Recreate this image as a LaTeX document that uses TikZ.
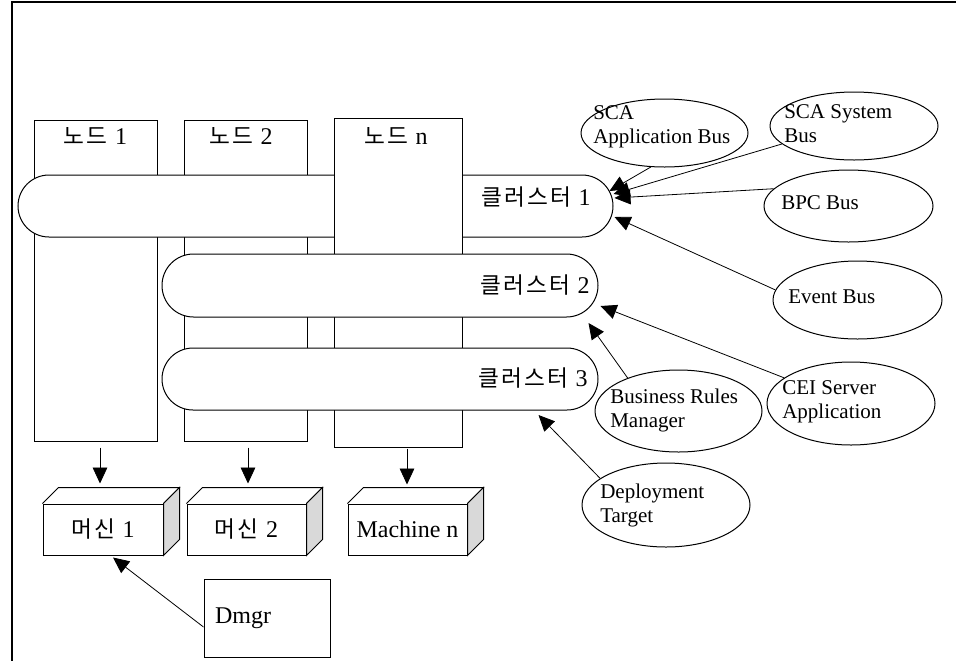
\documentclass[tikz,border=0pt]{standalone}
\usepackage{fontspec}
\setmainfont{Liberation Serif}
\newfontfamily\kr[LetterSpace=10]{Noto Sans CJK KR}
\usetikzlibrary{shapes.geometric,shapes.misc,arrows.meta,calc}
\newcommand\K[1]{{\kr\fontsize{17pt}{20pt}\selectfont #1}\hspace{1pt}}
\newcommand\machinefaces[1]{%
  \draw[line width=0.75pt] (#1.north west) -- ++(16,-16) -- ($(#1.north east)+(16,-16)$) -- (#1.north east);
  \filldraw[line width=0.75pt,fill=gray!30] (#1.north east) -- ++(16,-16) -- ($(#1.south east)+(16,-16)$) -- (#1.south east) -- cycle;
}
\begin{document}
\begin{tikzpicture}[x=0.75pt,y=-0.75pt,
  box/.style={draw,line width=0.75pt,fill=white,inner sep=0pt},
  clus/.style={draw,rounded rectangle,fill=white,line width=0.75pt,inner sep=0pt},
  bus/.style={draw,ellipse,line width=0.75pt,inner sep=0pt},
  arr/.style={line width=0.6pt,-{Triangle[length=12pt,width=11pt]}},
  lat/.style={font=\fontsize{18pt}{21pt}\selectfont,inner sep=0pt},
  etx/.style={font=\fontsize{15.75pt}{18pt}\selectfont,align=left,inner sep=0pt,anchor=west},
]
\useasboundingbox (0,0) rectangle (956,661);
\draw[line width=1.2pt] (956,2) -- (12,2) -- (12,661);

% nodes 1 and 2
\node[box,minimum width=92.25pt,minimum height=240.75pt] (n1) at (95.5,280.5) {};
\node[box,minimum width=92.25pt,minimum height=240.75pt] (n2) at (245.5,280.5) {};
% cluster 1
\node[clus,minimum width=446.25pt,minimum height=46.5pt] (c1) at (315.5,206) {};
% node n
\node[box,minimum width=96pt,minimum height=246.75pt] (nn) at (398,282.5) {};
% clusters 2 and 3
\node[clus,minimum width=327pt,minimum height=47.25pt] (c2) at (380,285.5) {};
\node[clus,minimum width=327pt,minimum height=46.5pt] (c3) at (380,379) {};

\node[lat] (n1l) at (95.5,136) {\K{노드} 1};
\node[lat] (n2l) at (241,136) {\K{노드} 2};
\node[lat] (nnl) at (396,136) {\K{노드} n};

\node[lat,anchor=east] (c1l) at (591,197) {\K{클러스터} 1};
\node[lat,anchor=east] (c2l) at (590,285) {\K{클러스터} 2};
\node[lat,anchor=east] (c3l) at (588,378) {\K{클러스터} 3};

% machines
\node[box,lat,minimum width=90pt,minimum height=38.25pt] (m1) at (103,529.5) {\K{머신} 1};
\node[box,lat,minimum width=89.25pt,minimum height=38.25pt] (m2) at (246.5,529.5) {\K{머신} 2};
\node[box,lat,minimum width=89.25pt,minimum height=38.25pt] (mn) at (407.5,529.5) {Machine n};
\machinefaces{m1}
\machinefaces{m2}
\machinefaces{mn}

% Dmgr
\node[box,lat,minimum height=58.5pt,text width=78pt,align=left,inner xsep=8.25pt] (dm) at (267,618) {Dmgr};

% buses
\node[bus,minimum width=125.25pt,minimum height=51pt] (e1) at (664.5,133) {};
\node[bus,minimum width=126pt,minimum height=51pt] (e2) at (854,126) {};
\node[bus,minimum width=126.75pt,minimum height=54pt] (e3) at (848.5,206) {};
\node[bus,minimum width=126.75pt,minimum height=58.5pt] (e4) at (857.5,300) {};
\node[bus,minimum width=125.25pt,minimum height=61.5pt] (e5) at (678.5,411) {};
\node[bus,minimum width=126pt,minimum height=62.25pt] (e6) at (851,403.5) {};
\node[bus,minimum width=126pt,minimum height=63pt] (e7) at (666,505) {};

\node[etx] (t1) at (593,127) {SCA\\Application Bus};
\node[etx] (t2) at (784,124) {SCA System\\Bus};
\node[etx] (t3) at (781,203) {BPC Bus};
\node[etx] (t4) at (788,297) {Event Bus};
\node[etx] (t5) at (610,410) {Business Rules\\Manager};
\node[etx] (t6) at (782,402) {CEI Server\\Application};
\node[etx] (t7) at (600,505) {Deployment\\Target};

% connectors
\draw[arr] ($(n1.south)+(4.5,6)$) -- ($(m1.north)+(-3,-20)$);
\draw[arr] ($(n2.south)+(2.5,6)$) -- ($(m2.north)+(1.5,-20)$);
\draw[arr] ($(nn.south)+(9,1)$) -- ($(mn.north)+(-0.5,-19)$);
\draw[arr] ($(dm.west)+(0,9)$) -- ($(m1.south)+(10,2)$);
\draw[arr] (e1.248) -- ($(c1.east)+(-4,-15)$);
\draw[arr] (e2.194) -- ($(c1.east)+(0,-12)$);
\draw[arr] (e3.167) -- ($(c1.east)+(1,-8)$);
\draw[arr] (e4.173) -- ($(c1.east)+(1,11)$);
\draw[arr] (e6.159) -- ($(c2.east)+(2,20.5)$);
\draw[arr] (e5.147) -- ($(c2.east)+(-10,37.5)$);
\draw[arr] (e7.158) -- ($(c3.east)+(-60,36)$);
\end{tikzpicture}
\end{document}
